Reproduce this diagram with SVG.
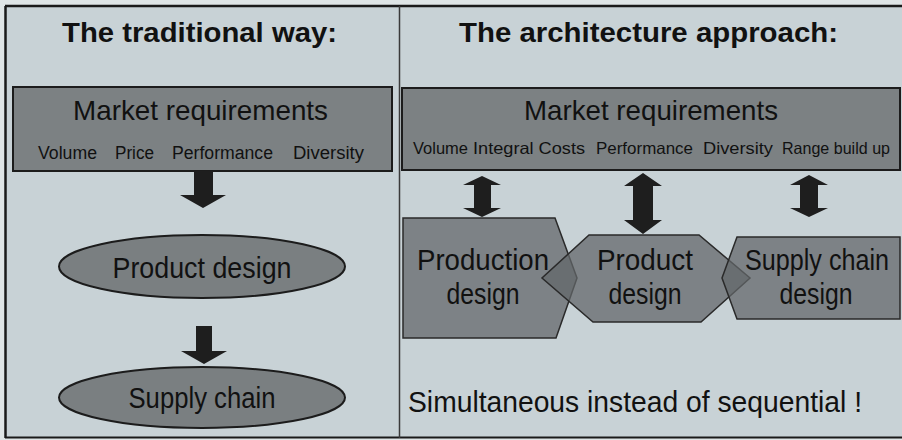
<svg xmlns="http://www.w3.org/2000/svg" width="902" height="440" viewBox="0 0 902 440">
  <style>
    text { font-family: "Liberation Sans", Arial, sans-serif; fill: #111111; }
    .title { font-weight: bold; font-size: 28px; }
    .head { font-size: 28.5px; }
    .sub { font-size: 18px; }
    .subr { font-size: 16.5px; }
    .lbl { font-size: 29px; text-anchor: middle; }
    .box { fill: #7c8183; stroke: #1c1c1c; stroke-width: 2; }
    .oval { fill: #7a7f81; stroke: #1c1c1c; stroke-width: 2; }
    .hex { fill: #636769; fill-opacity: 0.74; stroke: #2a2a2a; stroke-width: 1.5; }
    .arrow { fill: #1e1e1e; }
  </style>

  <!-- page background and frame -->
  <rect x="0" y="0" width="902" height="440" fill="#dfe5e6"/>
  <rect x="5" y="6" width="897" height="432" fill="#c8d2d6"/>
  <g fill="none" stroke="#1a1a1a">
    <line x1="5" y1="6" x2="902" y2="6" stroke-width="2.5"/>
    <line x1="5.5" y1="6" x2="5.5" y2="438" stroke-width="2.5"/>
    <line x1="5" y1="437.5" x2="902" y2="437.5" stroke-width="2"/>
    <line x1="399.5" y1="6" x2="399.5" y2="438" stroke-width="1.5" stroke="#3a3a3a"/>
  </g>

  <!-- left column: sequential flow -->
  <g id="title-traditional">
    <text class="title" x="62" y="42" textLength="275" lengthAdjust="spacingAndGlyphs">The traditional way:</text>
  </g>

  <g id="market-left">
    <rect class="box" x="13" y="87" width="379" height="84"/>
    <text class="head" x="73" y="120" textLength="255" lengthAdjust="spacingAndGlyphs">Market requirements</text>
    <text class="sub" x="38" y="159" textLength="59" lengthAdjust="spacingAndGlyphs">Volume</text>
    <text class="sub" x="115" y="159" textLength="39" lengthAdjust="spacingAndGlyphs">Price</text>
    <text class="sub" x="172" y="159" textLength="101" lengthAdjust="spacingAndGlyphs">Performance</text>
    <text class="sub" x="293" y="159" textLength="71" lengthAdjust="spacingAndGlyphs">Diversity</text>
  </g>

  <g id="product-design-left">
    <ellipse class="oval" cx="202" cy="266.5" rx="143" ry="31.5"/>
    <text class="lbl" x="202" y="278" textLength="179" lengthAdjust="spacingAndGlyphs">Product design</text>
  </g>

  <g id="supply-chain-left">
    <ellipse class="oval" cx="202" cy="397.5" rx="143" ry="30.5"/>
    <text class="lbl" x="202" y="408" textLength="147" lengthAdjust="spacingAndGlyphs">Supply chain</text>
  </g>

  <!-- right column: simultaneous design -->
  <g id="title-architecture">
    <text class="title" x="459" y="42" textLength="379" lengthAdjust="spacingAndGlyphs">The architecture approach:</text>
  </g>

  <g id="market-right">
    <rect class="box" x="402" y="88" width="498" height="82"/>
    <text class="head" x="524" y="120" textLength="254" lengthAdjust="spacingAndGlyphs">Market requirements</text>
    <text class="subr" x="413" y="154" textLength="55" lengthAdjust="spacingAndGlyphs">Volume</text>
    <text class="subr" x="473" y="154" textLength="112" lengthAdjust="spacingAndGlyphs">Integral Costs</text>
    <text class="subr" x="596" y="154" textLength="97" lengthAdjust="spacingAndGlyphs">Performance</text>
    <text class="subr" x="703" y="154" textLength="70" lengthAdjust="spacingAndGlyphs">Diversity</text>
    <text class="subr" x="782" y="154" textLength="108" lengthAdjust="spacingAndGlyphs">Range build up</text>
  </g>

  <g id="production-design">
    <polygon class="hex" points="403,218 555,218 577,278 556,338 403,338"/>
    <text class="lbl" x="483" y="270" textLength="132" lengthAdjust="spacingAndGlyphs">Production</text>
    <text class="lbl" x="483" y="304" textLength="73" lengthAdjust="spacingAndGlyphs">design</text>
  </g>

  <g id="product-design-right">
    <polygon class="hex" points="589,235 699,235 750,278 701,322 593,322 542,278"/>
    <text class="lbl" x="645" y="270" textLength="96" lengthAdjust="spacingAndGlyphs">Product</text>
    <text class="lbl" x="645" y="304" textLength="73" lengthAdjust="spacingAndGlyphs">design</text>
  </g>

  <g id="supply-chain-design">
    <polygon class="hex" points="737,237 900,237 900,319 737,319 722,278"/>
    <text class="lbl" x="817" y="270" font-size="25.5" textLength="144" lengthAdjust="spacingAndGlyphs">Supply chain</text>
    <text class="lbl" x="816" y="304" textLength="73" lengthAdjust="spacingAndGlyphs">design</text>
  </g>

  <g id="caption">
    <text x="408" y="412" font-size="29" textLength="454" lengthAdjust="spacingAndGlyphs">Simultaneous instead of sequential !</text>
  </g>

  <!-- connectors: block arrows -->
  <g id="connectors" class="arrow">
    <polygon points="194,171 213,171 213,195 226,195 203,208 180,195 194,195"/>
    <polygon points="196,326 212,326 212,351 227,351 204,364 181,351 196,351"/>
    <polygon points="482,176 501,185 491,185 491,208 501,208 482,217 463,208 474,208 474,185 463,185"/>
    <polygon points="643,173 662,186 653,186 653,220 662,220 643,234 624,220 633,220 633,186 624,186"/>
    <polygon points="809,175 828,185 818,185 818,208 828,208 809,217 790,208 800,208 800,185 790,185"/>
  </g>
</svg>
